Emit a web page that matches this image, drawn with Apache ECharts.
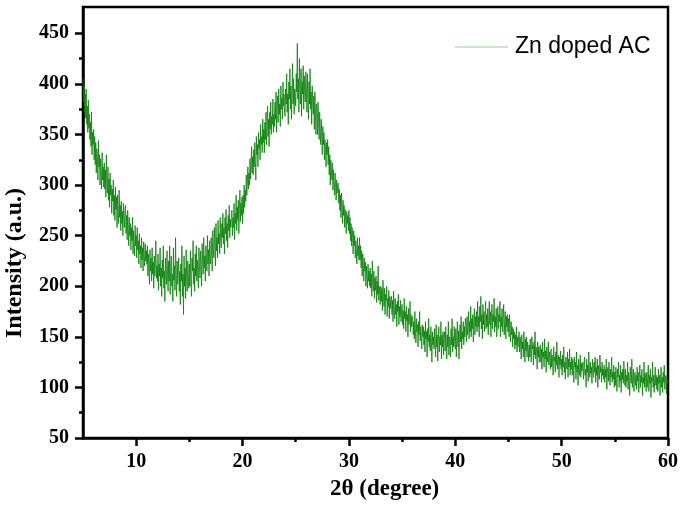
<!DOCTYPE html>
<html>
<head>
<meta charset="utf-8">
<script src="https://cdn.jsdelivr.net/npm/echarts@6/dist/echarts.min.js"></script>
<style>html,body{margin:0;padding:0;background:#fff}#c{width:685px;height:510px}</style>
</head>
<body>
<div id="c"></div>
<script>
// 2θ sampling of the pattern (degrees)
const thetaStart = 5;
const thetaStep = 0.05;
// Intensity (a.u.), one value per 0.05°, 5.00° .. 60.00°
const intensity = [
405,382,398,372,390,366,395,360,378,352,384,356,370,345,362,338,372,330,352,340,
355,325,348,320,342,312,336,328,305,344,318,330,300,326,312,296,332,305,318,298,
322,296,315,288,330,300,292,318,285,306,278,312,290,300,272,296,284,305,270,290,
265,298,276,288,258,290,272,262,295,268,280,255,284,262,274,250,282,266,258,276,
280,252,270,246,275,258,240,268,250,262,236,258,245,268,232,255,242,230,260,240,
250,228,258,236,245,222,252,232,240,218,248,226,238,215,244,230,220,242,225,235,
222,240,210,232,218,202,236,215,228,205,238,212,224,198,230,210,222,245,208,220,
205,232,196,222,210,238,200,218,190,226,208,240,198,215,185,228,212,202,235,210,
195,225,205,240,192,218,230,200,212,185,238,206,220,196,248,210,190,225,202,215,
228,195,215,182,222,205,240,190,212,172,230,200,218,188,236,205,195,225,210,198,
222,200,235,208,190,228,215,245,202,218,195,232,210,240,205,226,212,198,238,220,
208,235,220,200,242,225,212,248,218,230,205,240,226,215,250,222,236,210,245,228,
222,248,232,215,255,238,228,258,240,220,262,235,248,228,265,242,252,232,268,245,
238,262,248,272,242,258,232,268,252,276,245,262,238,270,255,280,248,266,258,272,
275,250,268,258,282,246,272,262,290,255,278,266,285,252,276,295,264,282,270,288,
262,290,272,300,278,295,284,310,290,302,318,296,312,300,326,306,320,338,312,328,
310,335,318,342,322,305,348,330,340,318,352,336,345,325,360,340,348,332,365,342,
355,332,362,345,372,340,356,378,348,365,338,372,355,382,350,368,360,385,352,370,
358,382,365,392,352,376,388,362,395,370,380,358,398,375,386,365,402,378,390,372,
368,395,380,410,372,390,360,402,385,415,375,398,365,392,420,380,405,370,395,388,
378,410,392,440,385,405,372,425,398,380,415,368,402,390,418,375,408,392,382,412,
395,372,410,385,365,402,380,415,375,392,360,398,382,370,388,355,392,372,350,380,
375,350,382,362,345,372,355,340,365,348,330,358,340,352,325,345,335,318,342,330,
345,320,338,310,330,300,325,315,305,322,295,315,300,290,312,298,285,305,292,300,
302,282,296,275,290,268,292,278,262,285,270,280,258,276,265,252,274,262,270,255,
275,252,268,245,262,240,258,248,232,255,240,250,228,245,235,222,248,230,240,226,
248,226,240,218,235,210,232,222,205,228,215,224,200,220,210,198,222,205,215,200,
218,198,212,190,225,202,195,215,188,208,196,210,184,205,192,220,186,200,192,182,
200,185,198,176,206,190,180,198,172,192,186,200,170,188,180,196,168,190,178,186,
190,172,186,165,195,176,168,188,172,182,160,185,175,192,162,180,170,186,165,178,
182,162,176,158,188,168,175,155,180,166,172,150,178,162,170,185,155,172,160,168,
170,152,165,148,175,158,144,168,155,162,140,165,152,175,146,160,150,138,162,150,
160,142,156,135,165,148,155,130,158,145,168,140,152,136,160,148,125,155,142,150,
138,158,145,130,162,140,152,126,148,160,135,150,142,165,128,152,140,155,132,148,
155,136,160,145,128,152,140,165,132,150,145,130,158,142,168,135,150,140,160,145,
138,158,130,152,165,140,156,128,150,162,145,170,138,155,148,165,142,160,150,168,
162,145,170,152,160,175,148,165,155,180,150,168,158,172,145,166,178,152,170,160,
175,155,185,160,170,150,180,165,190,158,172,148,182,162,175,155,168,185,158,172,
160,178,152,170,185,162,175,150,168,182,158,172,165,188,155,170,160,178,150,168,
180,158,172,165,185,150,170,160,178,155,168,182,152,165,175,148,170,160,172,155,
168,150,172,158,145,165,152,160,140,158,148,155,138,152,142,160,135,150,140,148,
155,135,150,142,128,152,138,145,130,155,140,125,148,136,150,130,145,138,126,142,
130,148,135,125,150,138,142,122,145,132,155,128,140,135,118,145,130,140,125,138,
142,125,138,118,145,130,135,120,148,128,136,115,140,130,125,145,122,135,128,118,
138,120,132,125,112,140,126,130,115,135,122,145,118,128,132,110,130,122,136,118,
128,112,132,120,140,115,125,108,130,122,118,135,110,128,120,138,112,125,118,130,
112,128,118,105,130,120,125,108,135,115,122,102,128,118,112,132,110,124,116,120,
125,108,120,130,112,118,100,128,115,122,106,135,118,110,125,114,120,104,128,118,
110,125,115,130,105,120,112,128,100,122,116,108,132,115,120,105,125,112,118,108,
122,105,118,110,128,98,115,120,106,125,112,102,118,110,130,105,115,108,122,100,
115,102,120,108,96,118,110,125,100,112,106,122,95,115,108,118,104,126,110,102,
118,100,112,106,125,98,115,108,92,120,110,104,128,100,112,118,96,110,115,102,
112,98,120,106,115,95,110,122,100,112,105,118,92,110,104,125,100,114,106,96,
115,100,110,122,96,112,104,118,90,110,106,125,100,112,95,108,120,102,112,98,
110,96,118,104,112,92,108,120,100,110,95,115,105,122,98,108,112,94,110,104,
106
];
const xLabels = [10, 20, 30, 40, 50, 60];
const xMinorTicks = [15, 25, 35, 45, 55];
const yLabels = [50, 100, 150, 200, 250, 300, 350, 400, 450];
const yMinorTicks = [75, 125, 175, 225, 275, 325, 375, 425];
const seriesName = 'Zn doped AC';
const xTitle = '2θ (degree)';
const yTitle = 'Intensity (a.u.)';

const points = intensity.map((v, i) => [+(thetaStart + i * thetaStep).toFixed(2), v]);

const chart = echarts.init(document.getElementById('c'), null, {renderer: 'canvas'});
const serif = 'Liberation Serif, Times New Roman, serif';
const gridRect = {left: 83, right: 17, top: 7, bottom: 72};

chart.setOption({
  animation: false,
  backgroundColor: '#fff',
  grid: Object.assign({show: true, borderColor: '#000', borderWidth: 2.5, backgroundColor: 'transparent', containLabel: false}, gridRect),
  xAxis: [{
    type: 'value', min: 5, max: 60, position: 'bottom',
    axisLine: {show: true, onZero: false, lineStyle: {color: '#000', width: 2.5}},
    axisTick: {show: true, inside: false, length: 8, lineStyle: {color: '#000', width: 2.5}, customValues: xLabels},
    axisLabel: {customValues: xLabels, margin: 14, fontFamily: serif, fontWeight: 'bold', fontSize: 20, color: '#000'},
    splitLine: {show: false}
  }, {
    type: 'value', min: 5, max: 60, position: 'bottom', gridIndex: 0,
    axisLine: {show: false, onZero: false},
    axisTick: {show: true, inside: false, length: 4, lineStyle: {color: '#000', width: 2.5}, customValues: xMinorTicks},
    axisLabel: {show: false},
    splitLine: {show: false}
  }],
  yAxis: [{
    type: 'value', min: 50, max: 476, position: 'left',
    axisLine: {show: true, onZero: false, lineStyle: {color: '#000', width: 2.5}},
    axisTick: {show: true, inside: false, length: 8, lineStyle: {color: '#000', width: 2.5}, customValues: yLabels},
    axisLabel: {customValues: yLabels, margin: 14, fontFamily: serif, fontWeight: 'bold', fontSize: 20, color: '#000'},
    splitLine: {show: false}
  }, {
    type: 'value', min: 50, max: 476, position: 'left',
    axisLine: {show: false, onZero: false},
    axisTick: {show: true, inside: false, length: 4, lineStyle: {color: '#000', width: 2.5}, customValues: yMinorTicks},
    axisLabel: {show: false},
    splitLine: {show: false}
  }],
  graphic: [{
    type: 'text', left: 330, top: 478,
    style: {text: xTitle, fontFamily: serif, fontWeight: 'bold', fontSize: 23, fill: '#000'}
  }, {
    type: 'text', x: 3, y: 338, rotation: Math.PI / 2,
    style: {text: yTitle, fontFamily: serif, fontWeight: 'bold', fontSize: 24, fill: '#000', align: 'left', verticalAlign: 'top'}
  }, {
    type: 'line', shape: {x1: 455, y1: 47, x2: 508, y2: 47},
    style: {stroke: '#9ccf98', lineWidth: 1}
  }, {
    type: 'text', x: 515, y: 47,
    style: {text: seriesName, fontFamily: 'Liberation Sans, Arial, sans-serif', fontSize: 23, fill: '#000', align: 'left', verticalAlign: 'middle'}
  }],
  series: [{
    name: seriesName, type: 'line', xAxisIndex: 0, yAxisIndex: 0,
    data: points, showSymbol: false, symbol: 'none',
    lineStyle: {color: '#057d05', width: 0.8},
    itemStyle: {color: '#057d05'},
    emphasis: {disabled: true}
  }]
});
</script>
</body>
</html>
